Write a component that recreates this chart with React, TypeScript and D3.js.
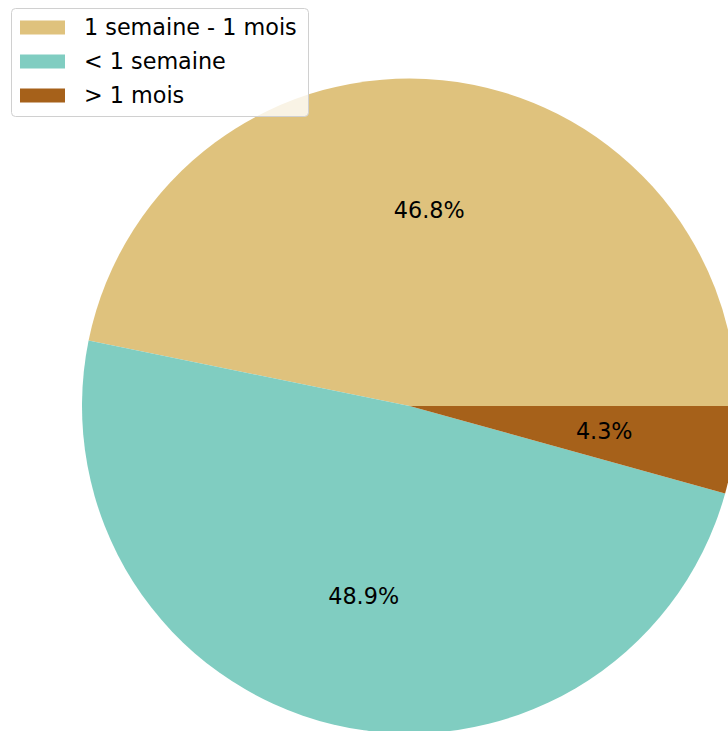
import React from "react";
import * as d3 from "d3";

const categories = ["1 semaine - 1 mois", "< 1 semaine", "> 1 mois"];
const values = [46.8, 48.9, 4.3];
const colors = ["#dfc27d", "#80cdc1", "#a6611a"];

const W = 728;
const H = 731;
const cx = 409.5;
const cy = 406;
const R = 327.5;

export default function App() {
  const pie = d3
    .pie<number>()
    .sort(null)
    .value((d) => d)
    .startAngle(Math.PI / 2)
    .endAngle(Math.PI / 2 - 2 * Math.PI);
  const arcs = pie(values);
  const arc = d3.arc<d3.PieArcDatum<number>>().innerRadius(0).outerRadius(R);
  const labelArc = d3
    .arc<d3.PieArcDatum<number>>()
    .innerRadius(R * 0.6)
    .outerRadius(R * 0.6);
  const total = d3.sum(values);
  const font = "DejaVu Sans, sans-serif";

  return (
    <svg
      width={W}
      height={H}
      style={{ position: "absolute", left: 0, top: 0, background: "#fff" }}
    >
      <g transform={`translate(${cx},${cy})`}>
        {arcs.map((a, i) => (
          <path key={i} d={arc(a) || ""} fill={colors[i]} />
        ))}
        {arcs.map((a, i) => {
          const [x, y] = labelArc.centroid(a);
          return (
            <text
              key={"t" + i}
              x={x}
              y={y - 1}
              textAnchor="middle"
              dominantBaseline="central"
              fontFamily={font}
              fontSize={22.3}
              fill="#000"
            >
              {((values[i] / total) * 100).toFixed(1)}%
            </text>
          );
        })}
      </g>
      <g>
        <rect
          x={11.5}
          y={8.5}
          width={297}
          height={108}
          rx={4}
          fill="#fff"
          fillOpacity={0.8}
          stroke="#d0d0d0"
          strokeWidth={1}
        />
        {categories.map((c, i) => (
          <g key={c} transform={`translate(0,${27.5 + i * 34})`}>
            <rect x={20} y={-7} width={45} height={14} fill={colors[i]} />
            <text
              x={84}
              y={-1}
              dominantBaseline="central"
              fontFamily={font}
              fontSize={22.3}
              fill="#000"
            >
              {c}
            </text>
          </g>
        ))}
      </g>
    </svg>
  );
}
